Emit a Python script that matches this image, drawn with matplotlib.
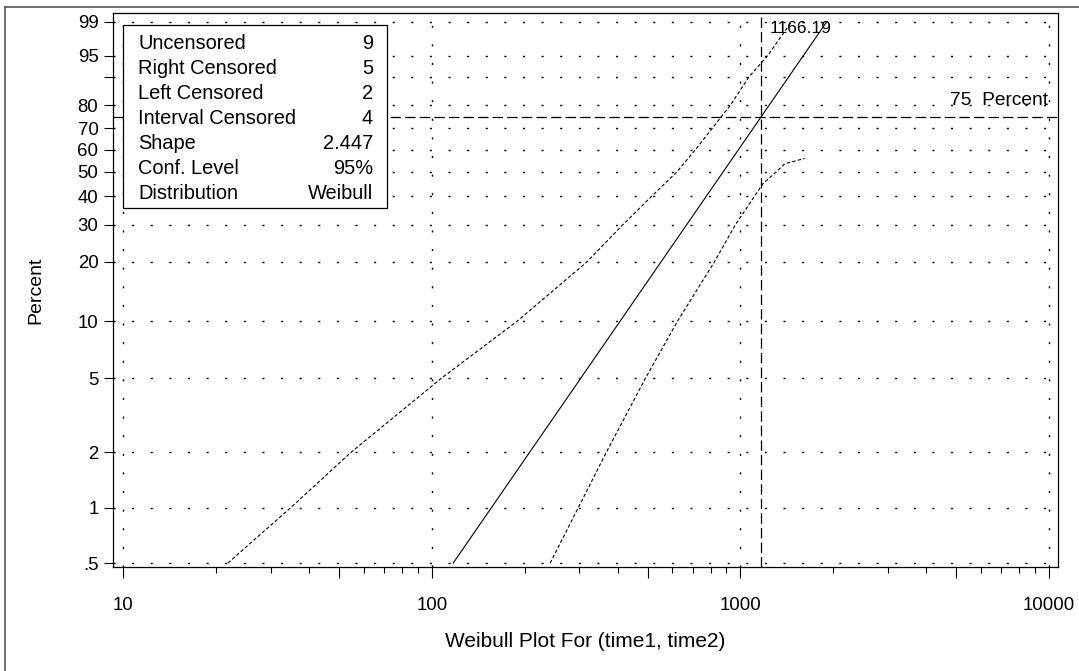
import numpy as np
import matplotlib
matplotlib.use("Agg")
import matplotlib.pyplot as plt
from matplotlib.lines import Line2D
from matplotlib.patches import Rectangle

plt.rcParams["font.family"] = ["Liberation Sans", "DejaVu Sans"]
plt.rcParams["lines.scale_dashes"] = False

# ---- data -------------------------------------------------------------
summary_labels = ["Uncensored", "Right Censored", "Left Censored",
                  "Interval Censored", "Shape", "Conf. Level", "Distribution"]
summary_values = ["9", "5", "2", "4", "2.447", "95%", "Weibull"]

shape = 2.447
ref_percent = 75.0
ref_time = 1166.19

# fitted line spans these percentiles
fit_percent = [0.5, 99.0]

# pointwise confidence limits (time, percent)
upper_band_time = [21.8, 34.8, 54.6, 107, 188.6, 318, 416, 516, 622, 714,
                   811, 928, 1067, 1224, 1464]
upper_band_pct = [0.5, 1, 2, 5, 10, 20, 30, 40, 50, 60, 70, 80, 90, 95, 99]
lower_band_time = [241.6, 297.9, 367.2, 491.5, 624.5, 823.3, 963.4,
                   1183, 1306, 1391, 1614]
lower_band_pct = [0.5, 1, 2, 5, 10, 20, 30, 45, 50, 53.6, 56]

x_major = [10, 50, 100, 500, 1000, 5000, 10000]
x_major_labels = ["10", "", "100", "", "1000", "", "10000"]
x_minor = [20, 30, 40, 60, 70, 80, 90, 200, 300, 400, 600, 700, 800, 900,
           2000, 3000, 4000, 6000, 7000, 8000, 9000]
x_grid = [10, 100, 1000, 10000]
y_ticks = [0.5, 1, 2, 5, 10, 20, 30, 40, 50, 60, 70, 80, 90, 95, 99]
y_tick_labels = [".5", "1", "2", "5", "10", "20", "30", "40", "50", "60",
                 "70", "80", "", "95", "99"]


# ---- Weibull probability scale ----------------------------------------
def weib_fwd(p):
    p = np.clip(np.asarray(p, dtype=float), 1e-9, 100 - 1e-9)
    return np.log10(-np.log(1 - p / 100.0))


def weib_inv(w):
    w = np.asarray(w, dtype=float)
    return 100.0 * (1 - np.exp(-10.0 ** w))


# scale parameter from the 75th percentile
eta = ref_time / (-np.log(1 - ref_percent / 100.0)) ** (1 / shape)
fit_time = [eta * (-np.log(1 - p / 100.0)) ** (1 / shape) for p in fit_percent]

# ---- figure -------------------------------------------------------------
W, H = 1079, 671
fig = plt.figure(figsize=(W / 100, H / 100), dpi=100)
ax = fig.add_axes([113 / W, 1 - 567 / H, 945 / W, 554 / H])

ax.set_xscale("log")
ax.set_yscale("function", functions=(weib_fwd, weib_inv))
ax.set_xlim(9.25, 10694)
ax.set_ylim(0.4757, 99.41)

# dotted grid
grid_style = dict(color="black", lw=1.0, linestyle=(0, (1.5, 11.9)), zorder=1)
for v in y_ticks:
    ax.axhline(v, **grid_style)
for v in x_grid:
    ax.axvline(v, **grid_style)

# reference lines
ref_style = dict(color="black", lw=0.9, linestyle=(0, (7.5, 3)), zorder=2)
ax.axvline(ref_time, **ref_style)
ax.axhline(ref_percent, **ref_style)

# fit and confidence limits
ax.plot(fit_time, fit_percent, color="black", lw=0.8, zorder=3)
band_style = dict(color="black", lw=0.8, linestyle=(0, (2.5, 1.6)), zorder=3)
ax.plot(upper_band_time, upper_band_pct, **band_style)
ax.plot(lower_band_time, lower_band_pct, **band_style)

ax.annotate(f"{ref_time:.2f}", xy=(ref_time, 99.41), xytext=(6, -11),
            textcoords="offset points", ha="left", va="center", fontsize=12.5,
            zorder=4)
ax.annotate(f"{ref_percent:.0f}  Percent", xy=(10694, ref_percent),
            xytext=(-7, 12), textcoords="offset points", ha="right",
            va="center", fontsize=13.8, zorder=4)

# ticks
ax.set_xticks(x_major)
ax.set_xticklabels(x_major_labels)
ax.set_xticks(x_minor, minor=True)
ax.set_xticklabels([], minor=True)
ax.set_yticks(y_ticks)
ax.set_yticklabels(y_tick_labels)
ax.yaxis.set_minor_locator(matplotlib.ticker.NullLocator())
ax.tick_params(axis="x", which="major", direction="out", length=8,
               width=0.8, labelsize=13.4, pad=13.7)
ax.tick_params(axis="x", which="minor", direction="out", length=4.5,
               width=0.8)
ax.tick_params(axis="y", which="major", direction="out", length=6.5,
               width=0.8, labelsize=13.4, pad=4)
for s in ax.spines.values():
    s.set_linewidth(0.9)

ax.set_xlabel("Weibull Plot For (time1, time2)", fontsize=15, labelpad=13)
ax.set_ylabel("Percent", fontsize=14, labelpad=24)

# summary box
box = Rectangle((0.0106, 0.648), 0.2794, 0.3303, transform=ax.transAxes,
                facecolor="white", edgecolor="black", lw=0.9, zorder=5)
ax.add_patch(box)
row_px = [43.3, 68.3, 93.3, 118.3, 143.3, 168.3, 193.3]
for lab, val, ypx in zip(summary_labels, summary_values, row_px):
    yy = 1 - (ypx - 13) / 554
    ax.text(0.0265, yy, lab, transform=ax.transAxes, ha="left", va="center",
            fontsize=14.4, zorder=6)
    ax.text(0.2751, yy, val, transform=ax.transAxes, ha="right", va="center",
            fontsize=14.4, zorder=6)

# outer frame
fig.add_artist(Line2D([5 / W, 5 / W], [0, 1 - 7 / H], transform=fig.transFigure,
                      color="#555555", lw=1.2))
fig.add_artist(Line2D([5 / W, 1], [1 - 7 / H, 1 - 7 / H],
                      transform=fig.transFigure, color="#555555", lw=1.2))

fig.savefig("out.png", dpi=100)
